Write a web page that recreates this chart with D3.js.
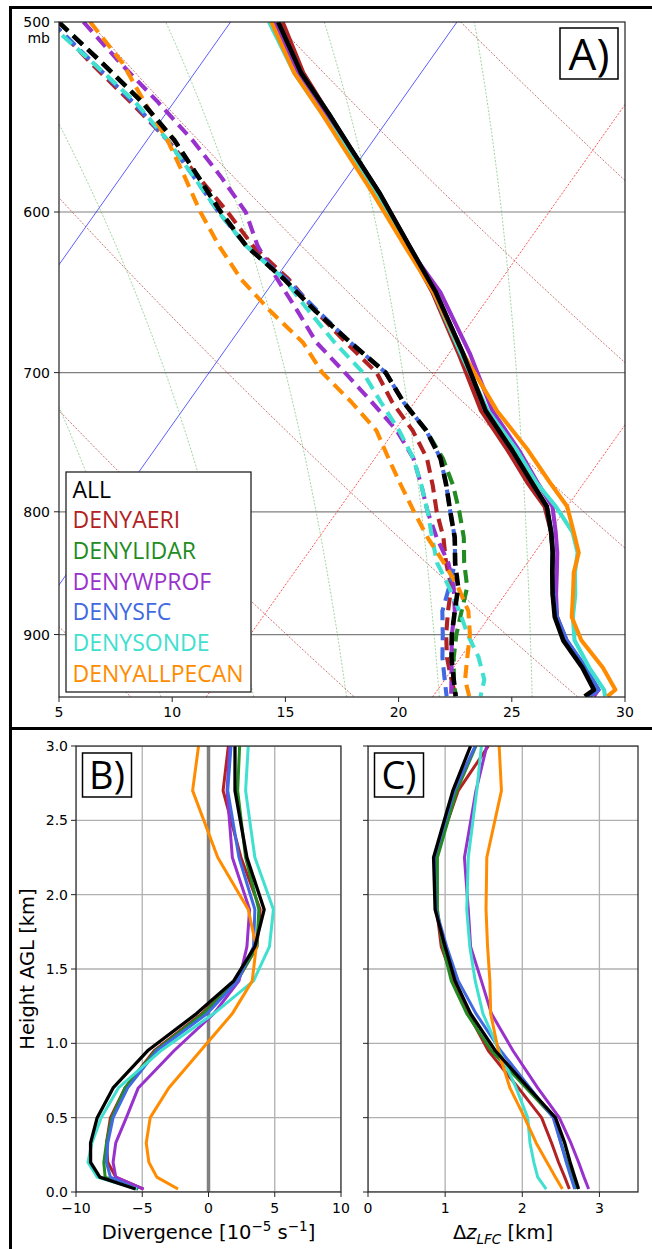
<!DOCTYPE html>
<html><head><meta charset="utf-8">
<script src="https://cdn.jsdelivr.net/npm/d3@7"></script>
<style>body{margin:0;background:#fff}svg{display:block}</style>
</head><body><svg id="c" width="652" height="1249"></svg>
<script>
// ---------------- DATA ----------------
const SERIES = ["ALL","DENYAERI","DENYLIDAR","DENYWPROF","DENYSFC","DENYSONDE","DENYALLPECAN"];
const COLORS = ["#000000","#b22222","#228b22","#9932cc","#4169e1","#40e0d0","#ff8c00"];

// Panel A: temperature (solid), pressure levels in mb, values in degC
const P_T = [500,525,546,564,589,620,648,687,726,754,778,796,816,832,848,866,885,905,929,949,955];
const T_ALL   = [-6.4,-3.8,-1.3,0.7,3.4,6.4,9.0,12.1,14.9,17.3,19.2,20.6,21.6,22.3,22.9,23.6,24.4,25.5,27.2,28.4,28.2];
const T_AERI  = [-6.2,-3.7,-1.3,0.6,3.3,6.3,8.85,11.9,14.7,17.1,19.0,20.5,21.6,22.3,22.9,23.65,24.5,25.6,27.3,28.6,28.4];
const T_LIDAR = [-6.4,-3.8,-1.3,0.7,3.4,6.4,9.0,12.1,14.9,17.3,19.2,20.6,21.6,22.3,22.9,23.6,24.45,25.55,27.25,28.5,28.3];
const T_WPROF = [-6.6,-4.0,-1.5,0.5,3.2,6.3,9.2,12.4,15.2,17.6,19.45,20.85,21.8,22.5,23.1,23.75,24.5,25.65,27.3,28.6,28.6];
const T_SFC   = [-6.4,-3.8,-1.3,0.7,3.4,6.4,9.0,12.1,14.9,17.3,19.2,20.6,21.6,22.3,22.9,23.65,24.5,25.65,27.35,28.6,28.4];
const T_SONDE = [-6.8,-4.1,-1.6,0.5,3.2,6.3,8.9,12.0,15.0,17.5,19.4,21.0,22.55,23.4,23.9,24.6,25.2,26.0,27.5,28.85,29.1];
const T_PECAN = [-6.7,-4.1,-1.6,0.4,3.1,6.2,8.9,12.1,15.4,18.0,20.0,21.5,22.6,23.45,23.85,24.5,25.15,26.3,28.1,29.35,29.2];

// Panel A: dewpoint (dashed)
const P_TD = [500,520,540,560,580,600,620,640,660,680,700,720,740,760,780,800,820,840,860,880,900,920,940,955];
const TD_ALL   = [-16.1,-12.9,-9.9,-7.3,-5.1,-3.0,-0.8,1.9,4.3,6.8,9.3,11.0,12.9,14.4,15.5,16.5,17.5,18.3,19.2,19.8,20.4,21.1,21.9,22.5];
const TD_AERI  = [-16.4,-13.4,-10.4,-7.6,-5.1,-2.7,-0.5,2.1,4.3,6.6,8.9,10.5,12.3,13.8,14.9,15.9,17.0,17.9,18.9,19.5,20.15,20.9,21.8,22.5];
const TD_LIDAR = [-16.1,-12.9,-9.9,-7.3,-5.1,-3.0,-0.8,1.9,4.3,6.8,9.3,11.0,12.9,14.5,15.8,16.9,17.9,18.7,19.6,20.1,20.6,21.2,21.9,22.5];
const TD_WPROF = [-15.0,-12.1,-9.2,-6.5,-4.1,-1.9,-0.3,1.6,3.5,5.3,7.5,9.6,11.6,13.2,14.4,15.5,16.7,18.0,19.0,19.8,20.4,21.1,21.8,22.3];
const TD_SFC   = [-16.4,-13.3,-10.3,-7.6,-5.3,-3.1,-0.8,2.0,4.4,6.8,9.3,11.0,12.9,14.4,15.5,16.5,17.5,18.3,18.8,19.25,20.0,20.7,21.5,22.1];
const TD_SONDE = [-16.6,-13.3,-10.2,-7.6,-5.3,-3.1,-0.8,1.9,4.0,6.1,8.3,10.0,11.7,13.2,14.4,15.5,16.5,17.5,18.8,20.0,21.1,22.3,23.25,23.6];
const TD_PECAN = [-14.7,-12.0,-9.8,-7.6,-5.7,-3.9,-2.0,0.0,2.3,4.7,6.5,8.7,10.7,12.1,13.5,14.9,16.3,17.8,19.2,20.4,21.2,21.8,22.4,23.1];

// Panel A background reference lines
const THETA_K = [285,295,305,315,325,335,345];     // dry adiabats (K)
const ISO_BLUE = [-8.5,1.5];                        // isotherms (solid blue)
const ISO_RED = [11.5,21.5];                        // isotherms (dotted red)
const MOIST_T0 = [9.5,13.6,17.7,21.8,25.9];         // moist adiabats, degC at bottom of panel
const P_TICKS = [500,600,700,800,900];
const T_TICKS = [5,10,15,20,25,30];

// Panels B and C
const H_KM = [0.02,0.1,0.2,0.33,0.5,0.7,0.95,1.2,1.42,1.65,1.9,2.25,2.7,3.0];
const DIV_ALL   = [-5.5,-8.2,-8.9,-8.9,-8.4,-7.2,-4.6,-0.9,1.9,3.5,4.2,2.9,2.0,2.0];
const DIV_AERI  = [-4.9,-7.0,-7.6,-7.7,-7.4,-6.3,-4.1,-0.5,2.15,3.65,3.9,2.45,1.1,1.5];
const DIV_LIDAR = [-5.3,-7.8,-7.9,-7.7,-7.3,-6.3,-4.0,-0.4,2.15,3.65,3.8,2.8,2.2,2.35];
const DIV_WPROF = [-4.9,-7.0,-7.2,-7.0,-6.2,-5.3,-2.6,0.4,2.3,2.9,3.1,1.8,1.4,1.6];
const DIV_SFC   = [-5.4,-7.4,-7.7,-7.6,-7.2,-6.1,-3.9,-0.1,2.2,3.4,3.5,2.3,1.45,1.7];
const DIV_SONDE = [-5.4,-8.4,-9.1,-8.8,-8.1,-6.8,-3.6,0.4,3.4,4.6,4.9,3.5,2.8,3.0];
const DIV_PECAN = [-2.3,-3.9,-4.5,-4.7,-4.4,-3.0,-0.6,1.8,3.3,3.6,3.0,0.7,-1.2,-0.75];

const DZ_ALL   = [2.73,2.68,2.62,2.55,2.43,2.08,1.65,1.33,1.13,1.0,0.87,0.85,1.1,1.33];
const DZ_AERI  = [2.61,2.55,2.47,2.38,2.25,1.95,1.56,1.3,1.11,0.95,0.89,0.87,1.17,1.56];
const DZ_LIDAR = [2.70,2.65,2.58,2.5,2.41,2.05,1.6,1.28,1.08,0.97,0.9,0.9,1.15,1.4];
const DZ_WPROF = [2.86,2.8,2.73,2.63,2.48,2.2,1.88,1.6,1.47,1.33,1.3,1.25,1.4,1.54];
const DZ_SFC   = [2.68,2.63,2.57,2.5,2.4,2.1,1.72,1.4,1.17,1.02,0.88,0.86,1.12,1.39];
const DZ_SONDE = [2.31,2.2,2.15,2.1,2.07,1.92,1.7,1.49,1.39,1.32,1.28,1.3,1.41,1.47];
const DZ_PECAN = [2.52,2.43,2.32,2.18,2.03,1.84,1.69,1.59,1.58,1.55,1.53,1.54,1.73,1.7];

const H_TICKS = [0,0.5,1,1.5,2,2.5,3];
const DIV_TICKS = [-10,-5,0,5,10];
const DZ_TICKS = [0,1,2,3];

// ---------------- DRAW ----------------
const T_SETS  = [T_ALL,T_AERI,T_LIDAR,T_WPROF,T_SFC,T_SONDE,T_PECAN];
const TD_SETS = [TD_ALL,TD_AERI,TD_LIDAR,TD_WPROF,TD_SFC,TD_SONDE,TD_PECAN];
const DIV_SETS = [DIV_ALL,DIV_AERI,DIV_LIDAR,DIV_WPROF,DIV_SFC,DIV_SONDE,DIV_PECAN];
const DZ_SETS  = [DZ_ALL,DZ_AERI,DZ_LIDAR,DZ_WPROF,DZ_SFC,DZ_SONDE,DZ_PECAN];
const ORDER = [1,2,3,4,5,6,0];

const svg = d3.select("#c");
const TICKF = "DejaVu Sans, sans-serif";
const LABF = "'Open Sans', 'Noto Sans', sans-serif";
const minus = v => String(v).replace("-", "\u2212");

// Outer frame
svg.append("line").attr("x1",9).attr("x2",652).attr("y1",7.5).attr("y2",7.5).attr("stroke","#000").attr("stroke-width",3);
svg.append("line").attr("x1",10.5).attr("x2",10.5).attr("y1",6).attr("y2",1249).attr("stroke","#000").attr("stroke-width",3);
svg.append("line").attr("x1",9).attr("x2",652).attr("y1",728.5).attr("y2",728.5).attr("stroke","#000").attr("stroke-width",3);

// ---- Panel A (Skew-T) ----
const A = {l:59, r:625, t:22, b:697};
const xA = d3.scaleLinear().domain([5,30]).range([A.l,A.r]);
const yA = d3.scaleLog().domain([500,955.6]).range([A.t,A.b]);
const SKEW = 0.707;
const sx = (T,p) => xA(T) + SKEW*(A.b - yA(p));
const defs = svg.append("defs");
defs.append("clipPath").attr("id","clipA").append("rect").attr("x",A.l).attr("y",A.t).attr("width",A.r-A.l).attr("height",A.b-A.t);
const gA = svg.append("g");
const gClip = gA.append("g").attr("clip-path","url(#clipA)");
const line = d3.line().x(d=>sx(d[1],d[0])).y(d=>yA(d[0]));
const pFine = d3.range(470,980,3);

// gridlines
P_TICKS.slice(1).forEach(p=>{
  gClip.append("line").attr("x1",A.l).attr("x2",A.r).attr("y1",yA(p)).attr("y2",yA(p)).attr("stroke","#808080").attr("stroke-width",1.2);
});
// dry adiabats
THETA_K.forEach(th=>{
  const pts = pFine.map(p=>[p, th*Math.pow(p/1000,0.2857)-273.15]);
  gClip.append("path").attr("d",line(pts)).attr("fill","none").attr("stroke","#b03030").attr("stroke-width",0.9).attr("stroke-dasharray","2,1.6").attr("opacity",0.75);
});
// isotherms
ISO_BLUE.forEach(T=>{
  gClip.append("path").attr("d",line([[470,T],[980,T]])).attr("fill","none").attr("stroke","#2a2aff").attr("stroke-width",0.9).attr("opacity",0.85);
});
ISO_RED.forEach(T=>{
  gClip.append("path").attr("d",line([[470,T],[980,T]])).attr("fill","none").attr("stroke","#ff2020").attr("stroke-width",0.9).attr("stroke-dasharray","2,1.6").attr("opacity",0.85);
});
// moist adiabats (pseudo-adiabatic integration)
function moist(T0c, p0, p1){
  const f=(T,p)=>{const Tc=T-273.15;const es=6.112*Math.exp(17.67*Tc/(Tc+243.5));const rs=0.622*es/(p-es);
    return 1.05*(287.04*T+2.501e6*rs)/(1005.7+2.501e6*2.501e6*rs*0.622/(287.04*T*T));};
  const n=300, dl=Math.log(p1/p0)/n; let T=T0c+273.15, p=p0; const out=[];
  for(let i=0;i<=n;i++){ out.push([p,T-273.15]); const k1=f(T,p); const k2=f(T+k1*dl,p*Math.exp(dl)); T+=0.5*(k1+k2)*dl; p*=Math.exp(dl); }
  return out;
}
MOIST_T0.forEach(T0=>{
  gClip.append("path").attr("d",line(moist(T0,955.6,470))).attr("fill","none").attr("stroke","#4caf50").attr("stroke-width",0.9).attr("stroke-dasharray","2,1.6").attr("opacity",0.6);
});
// profiles
ORDER.forEach(i=>{
  const ptsT = P_T.map((p,k)=>[p,T_SETS[i][k]]);
  gClip.append("path").attr("d",line(ptsT)).attr("fill","none").attr("stroke",COLORS[i]).attr("stroke-width",i===0?4.6:4.1).attr("stroke-linejoin","round");
});
ORDER.forEach(i=>{
  const ptsD = P_TD.map((p,k)=>[p,TD_SETS[i][k]]);
  gClip.append("path").attr("d",line(ptsD)).attr("fill","none").attr("stroke",COLORS[i]).attr("stroke-width",i===0?4.6:4.1).attr("stroke-dasharray","13,7").attr("stroke-linejoin","round");
});
// frame
gA.append("rect").attr("x",A.l).attr("y",A.t).attr("width",A.r-A.l).attr("height",A.b-A.t).attr("fill","none").attr("stroke","#222").attr("stroke-width",1.2);
// y ticks
P_TICKS.forEach(p=>{
  gA.append("line").attr("x1",A.l-5).attr("x2",A.l).attr("y1",yA(p)).attr("y2",yA(p)).attr("stroke","#222").attr("stroke-width",1);
  gA.append("text").attr("x",A.l-9).attr("y",yA(p)).attr("dy","0.36em").attr("text-anchor","end").attr("font-family",TICKF).attr("font-size",14).text(p);
});
gA.append("text").attr("x",A.l-9).attr("y",yA(500)+16).attr("dy","0.36em").attr("text-anchor","end").attr("font-family",TICKF).attr("font-size",14).text("mb");
T_TICKS.forEach(t=>{
  gA.append("line").attr("x1",xA(t)).attr("x2",xA(t)).attr("y1",A.b).attr("y2",A.b+5).attr("stroke","#222").attr("stroke-width",1);
  gA.append("text").attr("x",xA(t)).attr("y",A.b+15).attr("dy","0.36em").attr("text-anchor","middle").attr("font-family",TICKF).attr("font-size",14).text(t);
});
// legend
const lg = gA.append("g");
lg.append("rect").attr("x",66).attr("y",472).attr("width",185).attr("height",220).attr("fill","#fff").attr("stroke","#222").attr("stroke-width",1.3);
SERIES.forEach((s,i)=>{
  lg.append("text").attr("x",72.5).attr("y",497.5+i*30.7).attr("font-family",LABF).attr("font-size",23).attr("fill",COLORS[i]).text(s);
});
// panel letter
gA.append("rect").attr("x",560).attr("y",28).attr("width",58).attr("height",51).attr("fill","#fff").attr("stroke","#000").attr("stroke-width",1.5);
gA.append("text").attr("x",589).attr("y",54).attr("dy","0.36em").attr("text-anchor","middle").attr("font-family",LABF).attr("font-size",44).text("A)");

// ---- Panels B and C ----
function profilePanel(P, xDom, xTicks, sets, showYLabels, zeroLine, letter, xTickFmt){
  const x = d3.scaleLinear().domain(xDom).range([P.l,P.r]);
  const y = d3.scaleLinear().domain([0,3]).range([P.b,P.t]);
  const g = svg.append("g");
  const cid = "clip"+letter;
  defs.append("clipPath").attr("id",cid).append("rect").attr("x",P.l).attr("y",P.t).attr("width",P.r-P.l).attr("height",P.b-P.t);
  const gc = g.append("g").attr("clip-path",`url(#${cid})`);
  xTicks.forEach(t=>{ gc.append("line").attr("x1",x(t)).attr("x2",x(t)).attr("y1",P.t).attr("y2",P.b).attr("stroke","#b0b0b0").attr("stroke-width",1.3); });
  H_TICKS.forEach(t=>{ gc.append("line").attr("x1",P.l).attr("x2",P.r).attr("y1",y(t)).attr("y2",y(t)).attr("stroke","#b0b0b0").attr("stroke-width",1.3); });
  if(zeroLine){ gc.append("line").attr("x1",x(0)).attr("x2",x(0)).attr("y1",P.t).attr("y2",P.b).attr("stroke","#808080").attr("stroke-width",3.5); }
  const ln = d3.line().x(d=>x(d[1])).y(d=>y(d[0]));
  ORDER.forEach(i=>{
    gc.append("path").attr("d",ln(H_KM.map((h,k)=>[h,sets[i][k]]))).attr("fill","none").attr("stroke",COLORS[i]).attr("stroke-width",i===0?3.3:3).attr("stroke-linejoin","round");
  });
  g.append("rect").attr("x",P.l).attr("y",P.t).attr("width",P.r-P.l).attr("height",P.b-P.t).attr("fill","none").attr("stroke","#222").attr("stroke-width",1.2);
  H_TICKS.forEach(t=>{
    g.append("line").attr("x1",P.l-5).attr("x2",P.l).attr("y1",y(t)).attr("y2",y(t)).attr("stroke","#222");
    if(showYLabels) g.append("text").attr("x",P.l-8).attr("y",y(t)).attr("dy","0.36em").attr("text-anchor","end").attr("font-family",TICKF).attr("font-size",14).text(t.toFixed(1));
  });
  xTicks.forEach(t=>{
    g.append("line").attr("x1",x(t)).attr("x2",x(t)).attr("y1",P.b).attr("y2",P.b+5).attr("stroke","#222");
    g.append("text").attr("x",x(t)).attr("y",P.b+16).attr("dy","0.36em").attr("text-anchor","middle").attr("font-family",TICKF).attr("font-size",14).text(xTickFmt(t));
  });
  g.append("rect").attr("x",P.l+6.5).attr("y",P.t+7).attr("width",49).attr("height",44).attr("fill","#fff").attr("stroke","#000").attr("stroke-width",1.5);
  g.append("text").attr("x",P.l+31).attr("y",P.t+29.5).attr("dy","0.36em").attr("text-anchor","middle").attr("font-family",LABF).attr("font-size",38).text(letter+")");
  return g;
}
const B = {l:76, r:341, t:746, b:1192};
const C = {l:368, r:638, t:746, b:1192};
profilePanel(B,[-10,10],DIV_TICKS,DIV_SETS,true,true,"B",minus);
profilePanel(C,[0,3.5],DZ_TICKS,DZ_SETS,false,false,"C",t=>String(t));

// axis labels
svg.append("text").attr("transform","translate(34,969) rotate(-90)").attr("text-anchor","middle").attr("font-family",TICKF).attr("font-size",19.5).text("Height AGL [km]");
const dl = svg.append("text").attr("x",208.5).attr("y",1239).attr("text-anchor","middle").attr("font-family",TICKF).attr("font-size",19.5);
dl.append("tspan").text("Divergence [10");
dl.append("tspan").attr("dy",-8).attr("font-size",13.5).text("\u22125");
dl.append("tspan").attr("dy",8).text(" s");
dl.append("tspan").attr("dy",-8).attr("font-size",13.5).text("\u22121");
dl.append("tspan").attr("dy",8).text("]");
const zl = svg.append("text").attr("x",503).attr("y",1239).attr("text-anchor","middle").attr("font-family",TICKF).attr("font-size",19.5);
zl.append("tspan").text("\u0394");
zl.append("tspan").attr("font-style","italic").text("z");
zl.append("tspan").attr("dy",5).attr("font-size",13.5).attr("font-style","italic").text("LFC");
zl.append("tspan").attr("dy",-5).text(" [km]");
</script></body></html>
